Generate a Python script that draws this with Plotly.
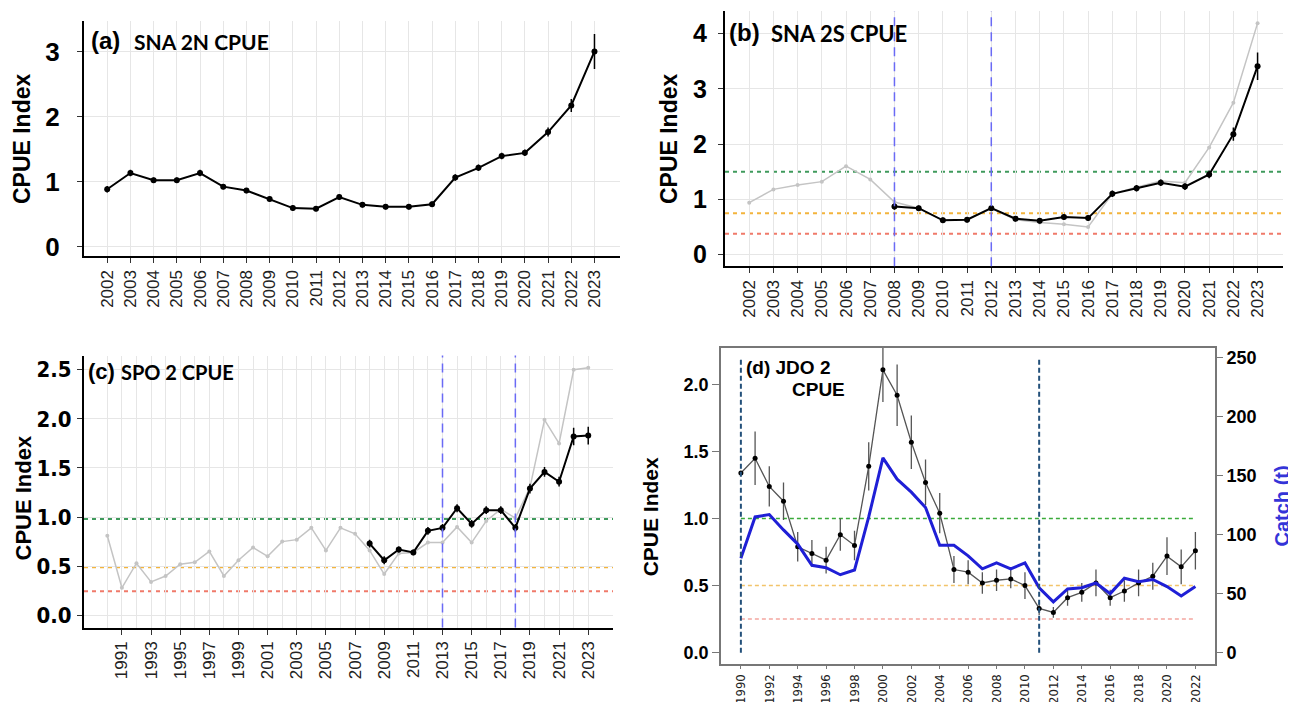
import plotly.graph_objects as go

W, H = 1296, 702

# ---------------- Panel (a) SNA 2N CPUE ----------------
years_a = [2002, 2003, 2004, 2005, 2006, 2007, 2008, 2009, 2010, 2011, 2012,
           2013, 2014, 2015, 2016, 2017, 2018, 2019, 2020, 2021, 2022, 2023]
cpue_a = [0.88, 1.13, 1.02, 1.02, 1.13, 0.92, 0.86, 0.73, 0.59, 0.58, 0.76,
          0.64, 0.61, 0.61, 0.65, 1.06, 1.21, 1.39, 1.44, 1.76, 2.17, 3.00]
err_a = [0.05, 0.05, 0.04, 0.04, 0.05, 0.04, 0.04, 0.04, 0.04, 0.04, 0.04,
         0.04, 0.04, 0.04, 0.04, 0.05, 0.05, 0.05, 0.05, 0.07, 0.10, 0.27]

# ---------------- Panel (b) SNA 2S CPUE ----------------
years_b_all = [2002, 2003, 2004, 2005, 2006, 2007, 2008, 2009, 2010, 2011, 2012,
               2013, 2014, 2015, 2016, 2017, 2018, 2019, 2020, 2021, 2022, 2023]
cpue_b_all = [0.94, 1.18, 1.26, 1.32, 1.60, 1.36, 0.95, 0.84, 0.62, 0.63, 0.84,
              0.63, 0.58, 0.55, 0.50, 1.10, 1.22, 1.33, 1.30, 1.94, 2.75, 4.19]
years_b = [2008, 2009, 2010, 2011, 2012, 2013, 2014, 2015, 2016, 2017, 2018,
           2019, 2020, 2021, 2022, 2023]
cpue_b = [0.87, 0.84, 0.62, 0.63, 0.84, 0.65, 0.61, 0.68, 0.66, 1.10, 1.20,
          1.30, 1.23, 1.45, 2.18, 3.41]
err_b = [0.06, 0.05, 0.05, 0.05, 0.05, 0.05, 0.05, 0.05, 0.05, 0.06, 0.06,
         0.06, 0.06, 0.07, 0.12, 0.25]
refs_b = [1.5, 0.75, 0.375]          # target, soft, hard
vlines_b = [2008, 2012]

# ---------------- Panel (c) SPO 2 CPUE ----------------
years_c_all = [1990, 1991, 1992, 1993, 1994, 1995, 1996, 1997, 1998, 1999, 2000,
               2001, 2002, 2003, 2004, 2005, 2006, 2007, 2008, 2009, 2010, 2011,
               2012, 2013, 2014, 2015, 2016, 2017, 2018, 2019, 2020, 2021, 2022, 2023]
cpue_c_all = [0.81, 0.28, 0.53, 0.34, 0.40, 0.52, 0.54, 0.65, 0.40, 0.56, 0.69,
              0.60, 0.75, 0.77, 0.89, 0.66, 0.89, 0.83, 0.66, 0.42, 0.63, 0.64,
              0.74, 0.74, 0.90, 0.74, 0.96, 1.08, 0.99, 1.30, 1.99, 1.75, 2.50, 2.52]
years_c = [2008, 2009, 2010, 2011, 2012, 2013, 2014, 2015, 2016, 2017, 2018,
           2019, 2020, 2021, 2022, 2023]
cpue_c = [0.73, 0.56, 0.67, 0.64, 0.86, 0.89, 1.09, 0.93, 1.07, 1.07, 0.89,
          1.29, 1.46, 1.36, 1.82, 1.83]
err_c = [0.04, 0.04, 0.03, 0.03, 0.04, 0.04, 0.04, 0.04, 0.04, 0.04, 0.04,
         0.05, 0.05, 0.05, 0.09, 0.09]
refs_c = [0.98, 0.49, 0.245]
vlines_c = [2013, 2018]
ticks_c = [1991, 1993, 1995, 1997, 1999, 2001, 2003, 2005, 2007, 2009, 2011,
           2013, 2015, 2017, 2019, 2021, 2023]

# ---------------- Panel (d) JDO 2 CPUE + catch ----------------
years_d = [1990, 1991, 1992, 1993, 1994, 1995, 1996, 1997, 1998, 1999, 2000,
           2001, 2002, 2003, 2004, 2005, 2006, 2007, 2008, 2009, 2010, 2011,
           2012, 2013, 2014, 2015, 2016, 2017, 2018, 2019, 2020, 2021, 2022]
cpue_d = [1.34, 1.45, 1.24, 1.13, 0.79, 0.74, 0.69, 0.88, 0.80, 1.39, 2.11,
          1.92, 1.57, 1.27, 1.04, 0.62, 0.60, 0.52, 0.54, 0.55, 0.50, 0.33,
          0.30, 0.41, 0.45, 0.52, 0.41, 0.46, 0.52, 0.57, 0.72, 0.64, 0.76]
err_d = [0.00, 0.20, 0.15, 0.14, 0.11, 0.10, 0.10, 0.12, 0.11, 0.18, 0.24,
         0.23, 0.20, 0.17, 0.15, 0.10, 0.09, 0.08, 0.08, 0.07, 0.10, 0.05,
         0.04, 0.06, 0.07, 0.10, 0.06, 0.08, 0.10, 0.10, 0.14, 0.13, 0.14]
catch_d = [80, 115, 117, 104, 92, 74, 72, 66, 70, 115, 165,
           147, 136, 123, 91, 91, 82, 71, 76, 71, 76, 55,
           43, 54, 55, 59, 50, 63, 60, 62, 56, 48, 56]
refs_d = [1.0, 0.5, 0.25]
vlines_d = [1990, 2011]
ticks_d = [1990, 1992, 1994, 1996, 1998, 2000, 2002, 2004, 2006, 2008, 2010,
           2012, 2014, 2016, 2018, 2020, 2022]
catch_ticks = [0, 50, 100, 150, 200, 250]

# ---------------- styling ----------------
GREY = "#c4c4c4"
REF_COLORS = ["#3f9a5c", "#f3b43c", "#f07a6a"]
REF_COLORS_D = ["#3aaa3a", "#f2c46a", "#f4a6a0"]
VBLUE = "#6a6af5"
VTEAL = "#23507a"
CATCH_BLUE = "#1f1fd6"
FONT = "Liberation Sans, Arial, sans-serif"
NARROW = "Liberation Sans Narrow, DejaVu Sans Condensed, Liberation Sans, sans-serif"


def px(x, y):
    return x / W, 1 - y / H


fig = go.Figure()

# Panel a
fig.add_trace(go.Scatter(x=years_a, y=cpue_a, xaxis="x", yaxis="y", mode="lines+markers",
                         line=dict(color="black", width=2), marker=dict(color="black", size=6),
                         error_y=dict(type="data", array=err_a, color="black", thickness=1.5, width=0),
                         showlegend=False))

# Panel b
fig.add_trace(go.Scatter(x=years_b_all, y=cpue_b_all, xaxis="x2", yaxis="y2", mode="lines+markers",
                         line=dict(color=GREY, width=1.5), marker=dict(color=GREY, size=4),
                         showlegend=False))
fig.add_trace(go.Scatter(x=years_b, y=cpue_b, xaxis="x2", yaxis="y2", mode="lines+markers",
                         line=dict(color="black", width=2), marker=dict(color="black", size=6),
                         error_y=dict(type="data", array=err_b, color="black", thickness=1.5, width=0),
                         showlegend=False))

# Panel c
fig.add_trace(go.Scatter(x=years_c_all, y=cpue_c_all, xaxis="x3", yaxis="y3", mode="lines+markers",
                         line=dict(color=GREY, width=1.5), marker=dict(color=GREY, size=4),
                         showlegend=False))
fig.add_trace(go.Scatter(x=years_c, y=cpue_c, xaxis="x3", yaxis="y3", mode="lines+markers",
                         line=dict(color="black", width=2), marker=dict(color="black", size=6),
                         error_y=dict(type="data", array=err_c, color="black", thickness=1.5, width=0),
                         showlegend=False))

# Panel d
fig.add_trace(go.Scatter(x=years_d, y=catch_d, xaxis="x4", yaxis="y5", mode="lines",
                         line=dict(color=CATCH_BLUE, width=3), showlegend=False))
fig.add_trace(go.Scatter(x=years_d, y=cpue_d, xaxis="x4", yaxis="y4", mode="lines+markers",
                         line=dict(color="#555555", width=1.3), marker=dict(color="black", size=5),
                         error_y=dict(type="data", array=err_d, color="#555555", thickness=1.3, width=0),
                         showlegend=False))

shapes = []
for v, c in zip(refs_b, REF_COLORS):
    shapes.append(dict(type="line", xref="x2 domain", yref="y2", x0=0, x1=1, y0=v, y1=v,
                       line=dict(color=c, width=2, dash="4px,4px"), layer="below"))
for v in vlines_b:
    shapes.append(dict(type="line", xref="x2", yref="y2 domain", x0=v, x1=v, y0=0, y1=1,
                       line=dict(color=VBLUE, width=1.5, dash="9px,6px")))
for v, c in zip(refs_c, REF_COLORS):
    shapes.append(dict(type="line", xref="x3 domain", yref="y3", x0=0, x1=1, y0=v, y1=v,
                       line=dict(color=c, width=2, dash="4px,4px"), layer="below"))
for v in vlines_c:
    shapes.append(dict(type="line", xref="x3", yref="y3 domain", x0=v, x1=v, y0=0, y1=1,
                       line=dict(color=VBLUE, width=1.5, dash="9px,6px")))
for v, c in zip(refs_d, REF_COLORS_D):
    shapes.append(dict(type="line", xref="x4", yref="y4", x0=years_d[0], x1=years_d[-1], y0=v, y1=v,
                       line=dict(color=c, width=1.5, dash="4px,3px"), layer="below"))
for v in vlines_d:
    shapes.append(dict(type="line", xref="x4", yref="y4", x0=v, x1=v, y0=0, y1=2.2,
                       line=dict(color=VTEAL, width=2, dash="5px,3px")))


def ggx(domain, vals, rng, size, minor=None):
    d = dict(domain=domain, range=rng, tickmode="array", tickvals=vals,
             ticktext=[str(v) for v in vals], tickangle=-90,
             tickfont=dict(family=FONT, size=size, color="#222"),
             showgrid=True, gridcolor="#e6e6e6", gridwidth=1,
             showline=True, linecolor="black", linewidth=2,
             ticks="outside", ticklen=5, tickcolor="#333", tickwidth=1,
             zeroline=False, fixedrange=True)
    if minor:
        d["minor"] = dict(tickvals=minor, showgrid=True, gridcolor="#e6e6e6", gridwidth=1, ticks="")
    return d


def ggy(domain, anchor, vals, texts, rng, size, family=FONT, standoff=0):
    return dict(domain=domain, anchor=anchor, range=rng, tickmode="array", tickvals=vals,
                ticktext=texts, tickfont=dict(family=family, size=size, color="black", weight="bold"),
                showgrid=True, gridcolor="#e6e6e6", gridwidth=1,
                showline=True, linecolor="black", linewidth=2,
                ticks="outside", ticklen=5, tickcolor="#333", tickwidth=1,
                ticklabelstandoff=standoff,
                zeroline=False, fixedrange=True)


xa0, _ = px(76, 0); xa1, _ = px(612, 0)
_, ya1 = px(0, 13); _, ya0 = px(0, 250)
xb0, _ = px(717, 0); xb1, _ = px(1275, 0)
_, yb1 = px(0, 3); _, yb0 = px(0, 260)
xc0, _ = px(76, 0); xc1, _ = px(605, 0)
_, yc1 = px(0, 350); _, yc0 = px(0, 624)
xd0, _ = px(713, 0); xd1, _ = px(1207, 0)
_, yd1 = px(0, 342); _, yd0 = px(0, 661)

d_left_range = [-0.087, 2.276]
catch_scale = 250 / 2.201

layout = dict(
    width=W, height=H, margin=dict(l=0, r=0, t=0, b=0),
    paper_bgcolor="white", plot_bgcolor="white", showlegend=False,
    xaxis=dict(ggx([xa0, xa1], years_a, [2001.0, 2024.1], 17), anchor="y"),
    yaxis=ggy([ya0, ya1], "x", [0, 1, 2, 3], ["0", "1", "2", "3"], [-0.15, 3.47], 26, standoff=12),
    xaxis2=dict(ggx([xb0, xb1], years_b_all, [2001.0, 2024.05], 17), anchor="y2"),
    yaxis2=ggy([yb0, yb1], "x2", [0, 1, 2, 3, 4], ["0", "1", "2", "3", "4"], [-0.21, 4.41], 25, standoff=6),
    xaxis3=dict(ggx([xc0, xc1], ticks_c, [1988.4, 2024.7], 17, minor=years_c_all), anchor="y3"),
    yaxis3=ggy([yc0, yc1], "x3", [0, 0.5, 1.0, 1.5, 2.0, 2.5], ["0.0", "0.5", "1.0", "1.5", "2.0", "2.5"],
               [-0.125, 2.645], 22, family=NARROW, standoff=1),
    xaxis4=dict(domain=[xd0, xd1], anchor="y4", range=[1988.6, 2023.38], tickmode="array",
                tickvals=ticks_d, ticktext=[str(v) for v in ticks_d], tickangle=-90,
                tickfont=dict(family=NARROW, size=13, color="#222"),
                showgrid=False, showline=True, linecolor="#777", linewidth=1.5, mirror=True,
                ticks="outside", ticklen=3, tickcolor="#777", zeroline=False, fixedrange=True),
    yaxis4=dict(domain=[yd0, yd1], anchor="x4", range=d_left_range, tickmode="array",
                tickvals=[0, 0.5, 1.0, 1.5, 2.0], ticktext=["0.0", "0.5", "1.0", "1.5", "2.0"],
                tickfont=dict(family=FONT, size=18, color="black", weight="bold"),
                showgrid=False, showline=True, linecolor="#777", linewidth=1.5, mirror=True,
                ticks="outside", ticklen=7, tickcolor="#777", zeroline=False, fixedrange=True),
    yaxis5=dict(domain=[yd0, yd1], anchor="x4", overlaying="y4", side="right",
                range=[d_left_range[0] * catch_scale, d_left_range[1] * catch_scale],
                tickmode="array", tickvals=catch_ticks, ticktext=[str(v) for v in catch_ticks],
                tickfont=dict(family=FONT, size=18, color="black", weight="bold"),
                title=dict(text="Catch (t)", standoff=19,
                           font=dict(family=FONT, size=20, color="#3434d8", weight="bold")),
                automargin=False,
                showgrid=False, showline=False, ticks="outside", ticklen=7, tickcolor="#777",
                zeroline=False, fixedrange=True),
    shapes=shapes,
)
fig.update_layout(**layout)


def ann(x, y, text, size, family=FONT, color="black", angle=0, xanchor="center", bold=True):
    xp, yp = px(x, y)
    fig.add_annotation(x=xp, y=yp, xref="paper", yref="paper", text=text, showarrow=False,
                       textangle=angle, xanchor=xanchor, yanchor="middle",
                       font=dict(family=family, size=size, color=color, weight="bold" if bold else "normal"))


TITLE_FONT = "Lato, Open Sans, sans-serif"
# panel labels
ann(81, 33, "(a)", 24, xanchor="left")
ann(124, 34, "SNA 2N CPUE", 21, family=TITLE_FONT, xanchor="left")
ann(719, 25, "(b)", 24, xanchor="left")
ann(761, 26, "SNA 2S CPUE", 22, family=TITLE_FONT, xanchor="left")
ann(78, 366, "(c)", 22, xanchor="left")
ann(111, 367, "SPO 2 CPUE", 20, family=TITLE_FONT, xanchor="left")
ann(736, 362, "(d) JDO 2", 19, xanchor="left")
ann(810, 384, "CPUE", 19)

# axis titles
ann(14, 132, "CPUE Index", 23, angle=-90)
ann(661, 132, "CPUE Index", 23, angle=-90)
ann(15, 494, "CPUE Index", 22, angle=-90)
ann(642, 513, "CPUE Index", 21, angle=-90)

fig.write_html("out.html")
